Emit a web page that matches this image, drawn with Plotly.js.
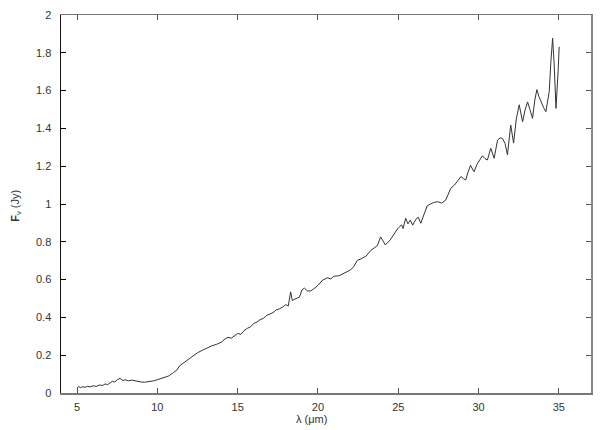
<!DOCTYPE html>
<html>
<head>
<meta charset="utf-8">
<script src="https://cdn.plot.ly/plotly-3.0.1.min.js"></script>
<style>
  html, body { margin: 0; padding: 0; background: #fff; }
  #chart { width: 613px; height: 430px; }
</style>
</head>
<body>
<div id="chart"></div>
<script>
// 波長 (μm)
const wavelength = [
  5.0, 5.1, 5.2, 5.35, 5.5, 5.65, 5.8, 6.0, 6.2, 6.4, 6.6, 6.75, 6.9, 7.05, 7.2, 7.35, 7.5, 7.68, 7.85, 8.0,
  8.2, 8.4, 8.6, 8.8, 9.0, 9.2, 9.5, 9.8, 10.1, 10.4, 10.7, 11.0, 11.2, 11.4, 11.6, 11.9, 12.2, 12.5, 12.8, 13.1,
  13.4, 13.7, 14.0, 14.2, 14.4, 14.6, 14.8, 15.0, 15.2, 15.4, 15.6, 15.8, 16.0, 16.2, 16.4, 16.6, 16.8, 17.0, 17.2, 17.4,
  17.6, 17.8, 18.0, 18.15, 18.3, 18.4, 18.55, 18.7, 18.85, 19.0, 19.15, 19.35, 19.55, 19.8, 20.0, 20.3, 20.6, 20.8, 21.0, 21.3,
  21.6, 21.8, 22.0, 22.2, 22.45, 22.7, 23.0, 23.3, 23.5, 23.7, 23.9, 24.05, 24.2, 24.5, 24.75, 24.95, 25.2, 25.3, 25.46, 25.6,
  25.75, 25.9, 26.1, 26.25, 26.4, 26.6, 26.8, 27.0, 27.2, 27.45, 27.7, 27.95, 28.1, 28.27, 28.5, 28.7, 28.9, 29.05, 29.2, 29.35,
  29.5, 29.65, 29.72, 29.9, 30.05, 30.24, 30.4, 30.55, 30.76, 30.97, 31.18, 31.35, 31.49, 31.65, 31.8, 32.0, 32.18, 32.35, 32.53, 32.74,
  32.9, 33.05, 33.2, 33.36, 33.5, 33.63, 33.75, 33.88, 34.05, 34.19, 34.4, 34.5, 34.61, 34.7, 34.82, 34.95, 35.02
];
// フラックス密度 (Jy)
const flux = [
  0.025, 0.035, 0.028, 0.033, 0.030, 0.036, 0.032, 0.038, 0.035, 0.042, 0.040, 0.048, 0.044, 0.055, 0.062, 0.058, 0.070, 0.078, 0.066, 0.070,
  0.065, 0.068, 0.064, 0.060, 0.058, 0.057, 0.060, 0.065, 0.073, 0.080, 0.090, 0.108, 0.120, 0.145, 0.157, 0.175, 0.195, 0.213, 0.226, 0.240,
  0.250, 0.258, 0.270, 0.285, 0.295, 0.290, 0.305, 0.315, 0.310, 0.330, 0.342, 0.350, 0.368, 0.375, 0.388, 0.395, 0.410, 0.418, 0.425, 0.440,
  0.445, 0.455, 0.468, 0.460, 0.535, 0.490, 0.495, 0.500, 0.508, 0.545, 0.555, 0.540, 0.540, 0.555, 0.570, 0.598, 0.610, 0.603, 0.618, 0.620,
  0.632, 0.640, 0.650, 0.665, 0.702, 0.710, 0.725, 0.755, 0.766, 0.780, 0.826, 0.800, 0.783, 0.810, 0.840, 0.868, 0.890, 0.870, 0.925, 0.895,
  0.915, 0.888, 0.920, 0.930, 0.898, 0.950, 0.990, 1.000, 1.008, 1.012, 1.005, 1.020, 1.050, 1.083, 1.100, 1.120, 1.145, 1.135, 1.127, 1.170,
  1.205, 1.180, 1.171, 1.210, 1.230, 1.255, 1.240, 1.233, 1.295, 1.242, 1.338, 1.350, 1.347, 1.320, 1.260, 1.418, 1.322, 1.450, 1.525, 1.435,
  1.500, 1.540, 1.500, 1.453, 1.550, 1.605, 1.570, 1.540, 1.510, 1.488, 1.595, 1.750, 1.877, 1.750, 1.506, 1.700, 1.832
];

const xTicks = [5, 10, 15, 20, 25, 30, 35];
const yTicks = [0, 0.2, 0.4, 0.6, 0.8, 1, 1.2, 1.4, 1.6, 1.8, 2];
const yTickText = ['0', '0.2', '0.4', '0.6', '0.8', '1', '1.2', '1.4', '1.6', '1.8', '2'];

const tickFont = { family: 'Liberation Sans, Arial, sans-serif', size: 11, color: '#333' };

const trace = {
  x: wavelength,
  y: flux,
  mode: 'lines',
  type: 'scatter',
  line: { color: '#333', width: 1 },
  hoverinfo: 'skip'
};

const layout = {
  width: 613,
  height: 430,
  margin: { l: 61, r: 22, t: 15, b: 37 },
  paper_bgcolor: '#fff',
  plot_bgcolor: '#fff',
  showlegend: false,
  xaxis: {
    range: [4, 37],
    tickvals: xTicks,
    ticks: 'inside',
    ticklen: 5,
    tickcolor: '#555',
    showline: true,
    linecolor: '#777',
    linewidth: 1.5,
    mirror: 'ticks',
    showgrid: false,
    zeroline: false,
    tickfont: tickFont,
    ticklabelstandoff: 3
  },
  yaxis: {
    range: [0, 2],
    tickvals: yTicks,
    ticktext: yTickText,
    ticks: 'inside',
    ticklen: 5,
    tickcolor: '#000',
    showline: true,
    linecolor: '#111',
    linewidth: 1.5,
    showgrid: false,
    zeroline: false,
    tickfont: tickFont,
    ticklabelstandoff: 6
  },
  yaxis2: {
    overlaying: 'y',
    side: 'right',
    range: [0, 2],
    tickvals: yTicks,
    showticklabels: false,
    ticks: 'inside',
    ticklen: 5,
    tickcolor: '#555',
    showline: true,
    linecolor: '#888',
    linewidth: 1.5,
    showgrid: false,
    zeroline: false
  },
  annotations: [
    {
      text: 'λ (μm)',
      xref: 'paper', yref: 'paper',
      x: 0.473, y: -0.07,
      xanchor: 'center', yanchor: 'middle',
      showarrow: false,
      font: { family: 'Liberation Sans, Arial, sans-serif', size: 11, color: '#333' }
    },
    {
      text: '<b>F</b><sub>ν</sub> (Jy)',
      xref: 'paper', yref: 'paper',
      x: -0.085, y: 0.495,
      xanchor: 'center', yanchor: 'middle',
      textangle: -90,
      showarrow: false,
      font: { family: 'Liberation Sans, Arial, sans-serif', size: 11, color: '#333' }
    }
  ]
};

// 右側の軸用ダミー系列
const dummy = { x: [4], y: [0], yaxis: 'y2', mode: 'markers', marker: { opacity: 0 }, hoverinfo: 'skip' };

Plotly.newPlot('chart', [trace, dummy], layout, { displayModeBar: false, staticPlot: true });
</script>
</body>
</html>
